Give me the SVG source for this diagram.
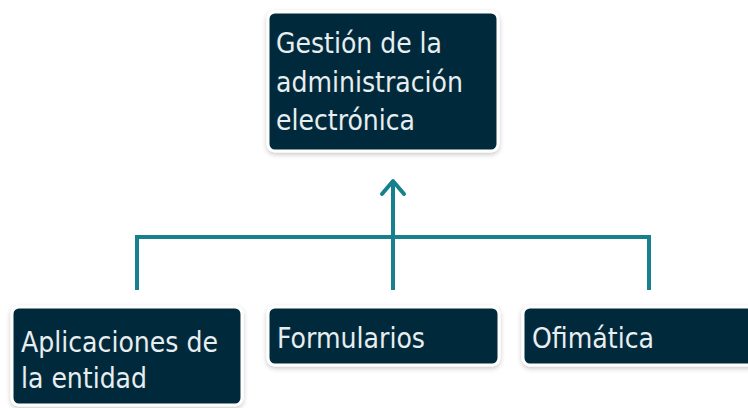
<svg xmlns="http://www.w3.org/2000/svg" width="748" height="408" viewBox="0 0 748 408">
  <defs>
    <filter id="sh" x="-10%" y="-20%" width="120%" height="140%">
      <feDropShadow dx="0" dy="2" stdDeviation="2.5" flood-color="#000" flood-opacity="0.22"/>
    </filter>
    <marker id="arr" viewBox="0 0 24 16" refX="12" refY="2" markerWidth="24" markerHeight="16" markerUnits="userSpaceOnUse" orient="auto-start-reverse">
      <path d="M1,15 L12,2 L23,15" fill="none" stroke="#17808F" stroke-width="4" stroke-linecap="round" stroke-linejoin="round"/>
    </marker>
  </defs>
  <style>
    .box { fill: #032B3B; stroke: #ffffff; stroke-width: 3; filter: url(#sh); }
    .lbl { font-family: "DejaVu Sans", "Liberation Sans", sans-serif; font-size: 29px; fill: #E8EEF0; }
    .con { fill: none; stroke: #17808F; stroke-width: 4; }
  </style>
  <rect width="748" height="408" fill="#ffffff"/>
  <g id="connectors">
    <path class="con" d="M137,290 V237 H649 V290"/>
    <line class="con" x1="393" y1="290" x2="393" y2="182"/>
    <path d="M382,194 L393,181 L404,194" fill="none" stroke="#17808F" stroke-width="4" stroke-linecap="round" stroke-linejoin="round"/>
  </g>
  <g id="node-gestion">
    <rect class="box" x="268" y="12" width="230" height="139" rx="7"/>
    <text class="lbl" x="276" y="53" textLength="166" lengthAdjust="spacingAndGlyphs">Gestión de la</text>
    <text class="lbl" x="276" y="92" textLength="187" lengthAdjust="spacingAndGlyphs">administración</text>
    <text class="lbl" x="276" y="130" textLength="139" lengthAdjust="spacingAndGlyphs">electrónica</text>
  </g>
  <g id="node-aplicaciones">
    <rect class="box" x="12" y="307" width="230" height="98" rx="7"/>
    <text class="lbl" x="21" y="352" textLength="197" lengthAdjust="spacingAndGlyphs">Aplicaciones de</text>
    <text class="lbl" x="21" y="388" textLength="126" lengthAdjust="spacingAndGlyphs">la entidad</text>
  </g>
  <g id="node-formularios">
    <rect class="box" x="268" y="307" width="231" height="58" rx="7"/>
    <text class="lbl" x="277" y="348" textLength="148" lengthAdjust="spacingAndGlyphs">Formularios</text>
  </g>
  <g id="node-ofimatica">
    <rect class="box" x="523" y="307" width="236" height="58" rx="7"/>
    <text class="lbl" x="532" y="348" textLength="122" lengthAdjust="spacingAndGlyphs">Ofimática</text>
  </g>
</svg>
